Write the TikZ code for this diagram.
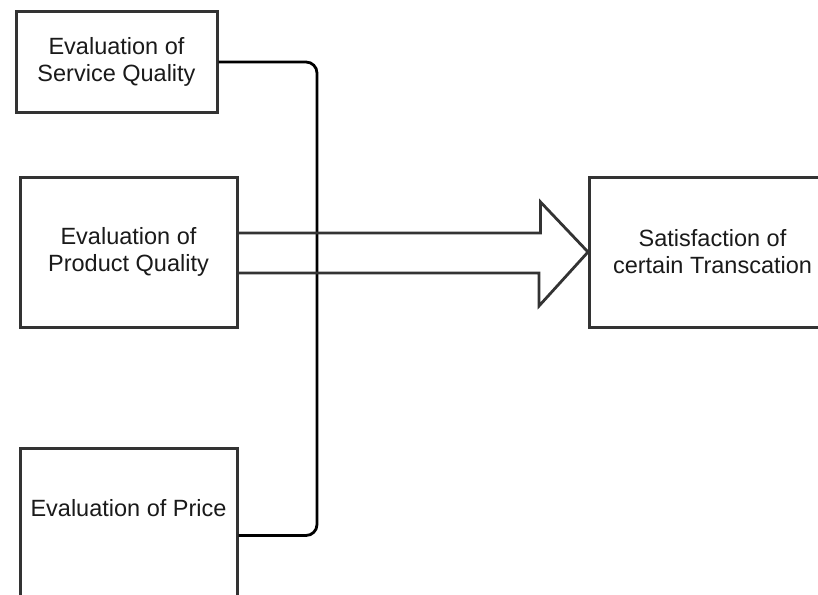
\documentclass[tikz,border=0pt]{standalone}
\usepackage{fontspec}
\setmainfont{Liberation Sans}
\usetikzlibrary{calc}
\definecolor{edge}{HTML}{333333}
\definecolor{ink}{HTML}{1A1A1A}
\begin{document}
\begin{tikzpicture}[x=1pt,y=-1pt,
  box/.style={draw=edge, line width=3pt, fill=white, rectangle, inner sep=0pt,
    text=ink, align=center, font=\fontsize{23.5}{27}\selectfont},
  lbl/.style={text=ink, align=center, inner sep=0pt, font=\fontsize{23.5}{27}\selectfont},
  conn/.style={draw=black, line width=2.8pt, rounded corners=11pt},
  bigarrow/.style={draw=edge, line width=2.8pt, line join=miter}]
\useasboundingbox (0,0) rectangle (818,594);
% input boxes
\node[box, minimum width=201pt, minimum height=100pt] (svc) at (116.5,62) {Evaluation of\\Service Quality};
\node[box, minimum width=217pt, minimum height=150pt] (prod) at (128.5,252) {Evaluation of\\Product Quality};
\node[box, minimum width=217pt, minimum height=150pt, anchor=north] (price) at (128.5,447) {};
\node[lbl] (pricetxt) at (128.5,508) {Evaluation of Price};
% result box
\node[box, minimum width=246pt, minimum height=150pt, anchor=west] (sat) at (588,252) {Satisfaction of\\certain Transcation};
% vertical bus joining service and price
\coordinate (bus) at (317,300);
\draw[conn] (svc.east) -| (bus) |- ([yshift=-12pt]price.east);
% hollow block arrow from product quality to satisfaction
\draw[bigarrow] ([yshift=19pt]prod.east) -- ++(302,0) -- ++(0,-31) -- (sat.west)
  -- ++(-49,54) -- ++(0,-33) -- ([yshift=-21pt]prod.east);
\end{tikzpicture}
\end{document}
